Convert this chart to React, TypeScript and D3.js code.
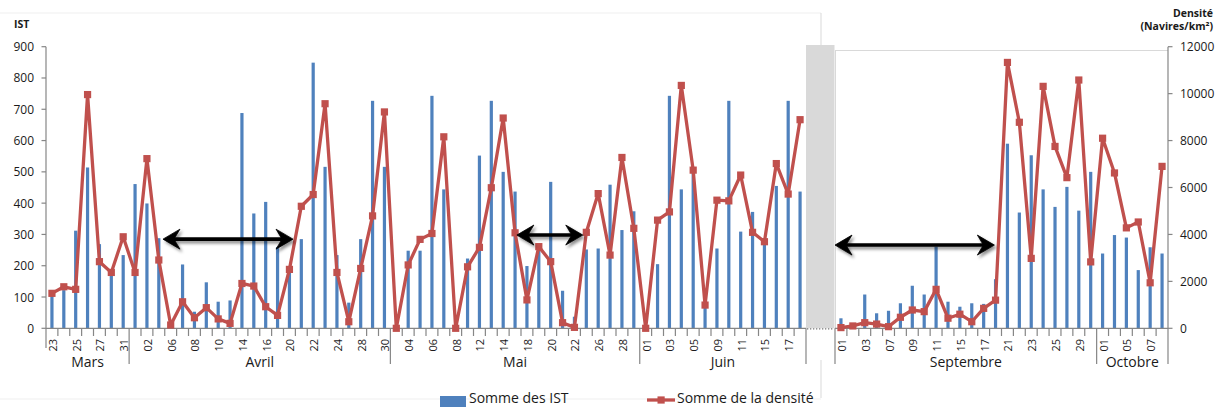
import React from 'react';
import * as d3 from 'd3';

// ---------- DATA ----------
const leftDates = [
  "23","24","25","26","27","29","31",
  "01","02","04","06","07","08","09","10","12","14","15","16","18","20","21","22","23","24","26","28","29","30",
  "03","04","05","06","07","08","10","12","13","14","16","18","19","20","21","22","24","26","27","28","30",
  "01","02","03","04","05","07","09","10","11","13","15","16","17","18"
];
const leftMonths = ["Mars", "Avril", "Mai", "Juin"];
const leftMonthCounts = [7, 22, 21, 14];
const istLeft = [
  110,122,312,514,269,180,234,
  461,399,288,12,204,53,147,85,89,688,367,404,260,185,285,849,516,234,82,285,727,516,
  0,248,248,743,444,0,223,552,727,500,437,199,250,468,120,37,252,255,459,314,374,
  0,205,743,444,500,65,255,727,309,372,282,455,727,437
];
const densLeft = [
  1490,1770,1660,9960,2840,2380,3900,
  2380,7230,2910,140,1130,450,880,400,210,1910,1800,920,550,2510,5200,5700,9570,2380,280,2550,4790,9220,
  0,2700,3790,4040,8160,0,2620,3450,5990,8960,4070,1210,3480,2840,240,40,4090,5740,3120,7280,4260,
  0,4610,4960,10350,6740,990,5460,5430,6530,4090,3690,7020,5720,8890
];

const rightDates = [
  "01","02","03","05","07","08","09","10","11","13","15","16","17","19","21","22","23","24","25","27","29","30",
  "01","03","05","06","07","08"
];
const rightMonths = ["Septembre", "Octobre"];
const rightMonthCounts = [22, 6];
const istRight = [
  32,12,108,48,56,80,136,108,261,85,69,80,78,157,590,370,553,444,388,452,376,500,
  239,298,290,186,259,239
];
const densRight = [
  30,100,240,180,70,470,780,710,1660,430,600,280,850,1200,11330,8780,2980,10310,7750,6420,10580,2830,
  8100,6620,4280,4530,1940,6900
];

const istTicks = [0,100,200,300,400,500,600,700,800,900];
const densTicks = [0,2000,4000,6000,8000,10000,12000];

// arrows (annotation): panel, start/end in category units, height in IST units
const arrows = [
  { panel: "L", from: 9.85, to: 20.8, ist: 285 },
  { panel: "L", from: 39.65, to: 45.2, ist: 298 },
  { panel: "R", from: 0.0, to: 13.4, ist: 266 },
];

// ---------- LAYOUT ----------
const W = 1216, H = 407;
const Y0 = 328.3, Y1 = 46.7;
const FONT = "'Open Sans', 'DejaVu Sans', sans-serif";
const BLUE = "#4F81BD";
const RED = "#C0504D";
const AXIS = "#868686";
const TXT = "#1a1a1a";

const yIst = d3.scaleLinear().domain([0, 900]).range([Y0, Y1]);
const yDen = d3.scaleLinear().domain([0, 12000]).range([Y0, Y1]);
const xL = d3.scaleBand<number>().domain(d3.range(leftDates.length)).range([46, 806]).padding(0);
const xR = d3.scaleBand<number>().domain(d3.range(rightDates.length)).range([835, 1168]).padding(0);

function Panel({ x, dates, ist, dens, months, counts, first }: any) {
  const bw = 3.2;
  const c = (i: number) => (x(i) as number) + x.bandwidth() / 2;
  const step = x.step();
  const r0 = x.range()[0];
  const line = d3.line<number>().x((_, i) => c(i)).y((d) => yDen(d));
  const boundaries = d3.range(dates.length + 1).map((i) => r0 + i * step);
  const monthStarts: number[] = [];
  let acc = 0;
  counts.forEach((n: number) => { monthStarts.push(acc); acc += n; });
  const monthEdges = new Set([...monthStarts, acc]);
  return (
    <g>
      {ist.map((v: number, i: number) => (
        <rect key={"b" + i} x={c(i) - bw / 2} y={yIst(v)} width={bw} height={Y0 - yIst(v)} fill={BLUE} />
      ))}
      <line x1={r0} x2={r0 + step * dates.length} y1={Y0} y2={Y0} stroke={AXIS} strokeWidth={1.2} />
      {boundaries.map((bx, i) => (
        <line key={"t" + i} x1={bx} x2={bx} y1={Y0}
          y2={monthEdges.has(i) ? (i === 0 && first ? 348 : 364) : 336}
          stroke={AXIS} strokeWidth={1.2} />
      ))}
      {dates.map((d: string, i: number) => i % 2 === 0 ? (
        <text key={"l" + i} transform={`translate(${c(i) + 0.5},339) rotate(-90)`} textAnchor="end"
          dominantBaseline="central" fontSize={11} fontFamily={FONT} fill={TXT}>{d}</text>
      ) : null)}
      {months.map((m: string, k: number) => {
        const a = r0 + monthStarts[k] * step;
        const b = r0 + (monthStarts[k] + counts[k]) * step;
        return (
          <text key={"m" + k} x={(a + b) / 2} y={367} textAnchor="middle" fontSize={14}
            fontFamily={FONT} fill={TXT}>{m}</text>
        );
      })}
      <path d={line(dens) || ""} fill="none" stroke={RED} strokeWidth={3.3} strokeLinejoin="round" />
      {dens.map((v: number, i: number) => (
        <rect key={"p" + i} x={c(i) - 3.6} y={yDen(v) - 3.6} width={7.2} height={7.2} fill={RED} />
      ))}
    </g>
  );
}

function Arrow({ x1, x2, y }: { x1: number; x2: number; y: number }) {
  const L = 17, Hh = 10, N = 11;
  const d =
    `M${x1},${y} L${x1 + L},${y - Hh} L${x1 + N},${y} L${x1 + L},${y + Hh} Z ` +
    `M${x2},${y} L${x2 - L},${y - Hh} L${x2 - N},${y} L${x2 - L},${y + Hh} Z`;
  return (
    <g filter="url(#shadow)">
      <line x1={x1 + 8} x2={x2 - 8} y1={y} y2={y} stroke="#000" strokeWidth={3.6} />
      <path d={d} fill="#000" stroke="#000" strokeWidth={0.8} strokeLinejoin="round" />
    </g>
  );
}

export default function App() {
  const posL = (f: number) => xL.range()[0] + f * xL.step();
  const posR = (f: number) => xR.range()[0] + f * xR.step();
  return (
    <svg width={W} height={H} style={{ position: "absolute", left: 0, top: 0, background: "#fff" }}
      fontFamily={FONT}>
      <defs>
        <filter id="shadow" x="-10%" y="-100%" width="120%" height="300%">
          <feDropShadow dx={2} dy={2.5} stdDeviation={1.6} floodColor="#000" floodOpacity={0.45} />
        </filter>
      </defs>
      <rect x={0} y={0} width={W} height={H} fill="#fff" />
      {/* faint frame lines */}
      <line x1={0} x2={821} y1={13} y2={13} stroke="#efefef" />
      <line x1={0} x2={821} y1={399} y2={399} stroke="#efefef" />
      <line x1={821} x2={821} y1={13} y2={46} stroke="#d9d9d9" />
      <line x1={821} x2={821} y1={360} y2={398} stroke="#d9d9d9" />

      {/* gray gap */}
      <rect x={806} y={45} width={28.5} height={Y0 - 45} fill="#d9d9d9" />
      <line x1={807} x2={834} y1={Y0 + 0.5} y2={Y0 + 0.5} stroke="#777" strokeWidth={1.3} strokeDasharray="1.3,1.7" />

      {/* right plot border */}
      <line x1={835} x2={1168} y1={50.5} y2={50.5} stroke="#d9d9d9" />
      <line x1={835.5} x2={835.5} y1={50.5} y2={Y0} stroke="#d9d9d9" />

      {/* left axis */}
      <text x={14} y={28} fontSize={10.5} fontWeight="bold" fill={TXT}>IST</text>
      <line x1={46} x2={46} y1={Y1} y2={Y0} stroke={AXIS} strokeWidth={1.2} />
      {istTicks.map((t) => (
        <g key={"yl" + t}>
          <line x1={41.5} x2={46} y1={yIst(t)} y2={yIst(t)} stroke={AXIS} strokeWidth={1.2} />
          <text x={34} y={yIst(t)} textAnchor="end" dominantBaseline="central" fontSize={12} fill={TXT}>{t}</text>
        </g>
      ))}

      {/* right axis */}
      <text x={1213} y={17} textAnchor="end" fontSize={10.5} fontWeight="bold" fill={TXT}>Densité</text>
      <text x={1213} y={30} textAnchor="end" fontSize={10.5} fontWeight="bold" fill={TXT}>(Navires/km²)</text>
      <line x1={1168} x2={1168} y1={Y1} y2={Y0} stroke={AXIS} strokeWidth={1.2} />
      {densTicks.map((t) => (
        <g key={"yr" + t}>
          <line x1={1168} x2={1172.5} y1={yDen(t)} y2={yDen(t)} stroke={AXIS} strokeWidth={1.2} />
          <text x={1180} y={yDen(t)} textAnchor="start" dominantBaseline="central" fontSize={12} fill={TXT}>{t}</text>
        </g>
      ))}

      <Panel x={xL} dates={leftDates} ist={istLeft} dens={densLeft} months={leftMonths} counts={leftMonthCounts} first />
      <Panel x={xR} dates={rightDates} ist={istRight} dens={densRight} months={rightMonths} counts={rightMonthCounts} />

      {arrows.map((a, k) => {
        const p = a.panel === "L" ? posL : posR;
        return <Arrow key={"a" + k} x1={p(a.from)} x2={p(a.to)} y={yIst(a.ist)} />;
      })}

      {/* legend */}
      <rect x={440} y={396} width={26} height={11} fill={BLUE} />
      <text x={469} y={403} fontSize={14} fill={TXT}>Somme des IST</text>
      <line x1={647} x2={675} y1={400} y2={400} stroke={RED} strokeWidth={3.3} />
      <rect x={657.5} y={396.4} width={7.2} height={7.2} fill={RED} />
      <text x={677} y={403} fontSize={14} fill={TXT}>Somme de la densité</text>
    </svg>
  );
}
